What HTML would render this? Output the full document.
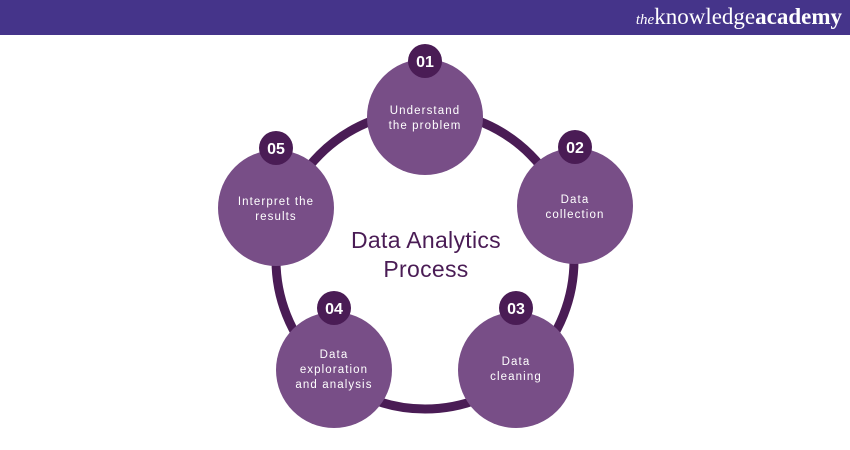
<!DOCTYPE html>
<html><head><style>
body{margin:0;width:850px;height:450px;background:#fff;overflow:hidden;font-family:"Liberation Sans",sans-serif}
.hdr{position:absolute;left:0;top:0;width:850px;height:35px;background:#45348a}
.logo{position:absolute;right:8px;top:4px;color:#fff;font-family:"Liberation Serif",serif;font-size:23px}
.logo i{font-size:15px}
</style></head><body>
<div class="hdr"><div class="logo"><i>the</i>knowledge<b>academy</b></div></div>
<svg width="850" height="450" style="position:absolute;left:0;top:0" font-family="Liberation Sans, sans-serif">
<circle cx="425" cy="260" r="149" fill="none" stroke="#4a1c55" stroke-width="9"/>
<g fill="#784e87">
<circle cx="425" cy="117" r="58"/>
<circle cx="575" cy="206" r="58"/>
<circle cx="516" cy="370" r="58"/>
<circle cx="334" cy="370" r="58"/>
<circle cx="276" cy="208" r="58"/>
</g>
<g fill="#4a1c55">
<circle cx="425" cy="61" r="17"/>
<circle cx="575" cy="147" r="17"/>
<circle cx="516" cy="308" r="17"/>
<circle cx="334" cy="308" r="17"/>
<circle cx="276" cy="148" r="17"/>
</g>
<g fill="#fff" font-weight="bold" font-size="16" text-anchor="middle">
<text x="425" y="67">01</text><text x="575" y="153">02</text><text x="516" y="314">03</text><text x="334" y="314">04</text><text x="276" y="154">05</text>
</g>
<g fill="#fff" font-size="11.5" text-anchor="middle" letter-spacing="1.1">
<text x="425" y="114">Understand</text><text x="425" y="129">the problem</text>
<text x="575" y="203">Data</text><text x="575" y="218">collection</text>
<text x="516" y="365">Data</text><text x="516" y="380">cleaning</text>
<text x="334" y="358">Data</text><text x="334" y="373">exploration</text><text x="334" y="388">and analysis</text>
<text x="276" y="205">Interpret the</text><text x="276" y="220">results</text>
</g>
<g fill="#4a1c55" font-size="23" text-anchor="middle" letter-spacing="0.3">
<text x="426" y="248">Data Analytics</text><text x="426" y="277">Process</text>
</g>
</svg>
</body></html>
